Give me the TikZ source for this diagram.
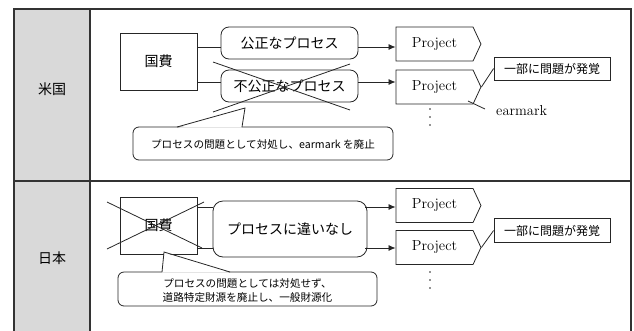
\documentclass[tikz,border=0pt]{standalone}
\usepackage{fontspec}
\newfontfamily\jp{Noto Sans CJK JP}
\usetikzlibrary{arrows.meta,shapes.symbols,calc}
\begin{document}
\begin{tikzpicture}[x=1pt,y=-1pt,
  frame/.style={draw=black!80,line width=1.1pt},
  box/.style={draw=black!85,line width=0.8pt,inner sep=0pt},
  rbox/.style={box,rounded corners=8pt},
  proj/.style={box,shape=signal,signal to=east,signal pointer angle=130,minimum width=85pt,minimum height=34pt,font=\fontsize{14.5}{16}\selectfont},
  conn/.style={draw=black!85,line width=0.8pt},
  arr/.style={conn,-{Latex[length=7pt,width=6pt]}},
  jpL/.style={font=\jp\fontsize{14}{16}\selectfont},
  jpM/.style={font=\jp\fontsize{12}{14}\selectfont},
  jpS/.style={font=\jp\fontsize{10.6}{14}\selectfont,align=center},
  dot/.style={fill=black!85,circle,inner sep=0pt,minimum size=1.6pt},
]
\useasboundingbox (0,0) rectangle (634,330);
\begin{scope}
\clip (0,0) rectangle (634,330);
\fill[black!15] (14,9) rectangle (90,335);
\draw[frame] (14,335) -- (14,9) -- (631,9) -- (631,335);
\draw[frame] (90,9) -- (90,335);
\draw[frame,line width=1.6pt] (14,181) -- (631,181);
\end{scope}

% row labels
\node[jpL] (us) at (52,89) {米国};
\node[jpL] (ja) at (52,258) {日本};

% ---------- US row ----------
\node[box,minimum width=77pt,minimum height=57pt,jpL] (k1) at (158.5,61.5) {国費};
\node[rbox,minimum width=137pt,minimum height=32pt,jpL] (fair) at (289.5,43) {公正なプロセス};
\node[rbox,minimum width=137pt,minimum height=32pt,jpL] (unfair) at (289.5,86) {不公正なプロセス};
\node[proj] (p1) at (434.5,44) {Project};
\node[proj] (p2) at (434.5,87) {Project};

\coordinate (ya) at (0,47);
\coordinate (yb) at (0,82);
\draw[conn] (k1.east |- ya) -- (fair.west |- ya);
\draw[conn] (k1.east |- yb) -- (unfair.west |- yb);
\draw[arr] (fair.east |- ya) -- (p1.west |- ya);
\draw[arr] (unfair.east |- yb) -- (p2.west |- yb);

% cross over unfair process
\draw[conn] (213,62) -- (350,110);
\draw[conn] (213,112) -- (350,64);

\node[box,minimum width=116pt,minimum height=23pt,jpM] (f1) at (552,68.5) {一部に問題が発覚};
\draw[conn] (f1.west) -- (p2.east);
\node[font=\fontsize{14.5}{16}\selectfont,anchor=west,inner sep=0pt] (em) at (496,111) {earmark};
\coordinate (emb) at (468,101);
\draw[conn] (emb) -- ($(em.west)+(-11,-2)$);

\node[dot] (d1) at (430,109) {};
\node[dot] (d2) at (430,117) {};
\node[dot] (d3) at (430,125) {};

% callout US
\draw[conn,rounded corners=6pt] (133,127) rectangle (393,160);
\fill[white] (178.5,127.7) -- (245,108.5) -- (241.6,127.7) -- cycle;
\coordinate (t1) at (245,108);
\draw[conn] (177,127) -- (t1) -- (242,127);
\node[jpS] (c1) at (263,144) {プロセスの問題として対処し、earmark を廃止};

% ---------- Japan row ----------
\node[box,minimum width=77pt,minimum height=57pt,jpL] (k2) at (158.5,225.5) {国費};
\draw[conn] (107,202) -- (202,248);
\draw[conn] (107,249) -- (204,202);
\node[rbox,rounded corners=10pt,minimum width=154pt,minimum height=56pt,jpL] (nd) at (290,229) {プロセスに違いなし};
\node[proj] (p3) at (434.5,205.5) {Project};
\node[proj] (p4) at (434.5,247.5) {Project};

\coordinate (yc) at (0,207);
\coordinate (yd) at (0,248);
\draw[conn] (k2.east |- yc) -- (nd.west |- yc);
\draw[conn] (k2.east |- yd) -- (nd.west |- yd);
\draw[arr] ($(nd.east |- yc)+(-2,0)$) -- (p3.west |- yc);
\draw[arr] ($(nd.east |- yd)+(-2,0)$) -- (p4.west |- yd);

\node[box,minimum width=116pt,minimum height=24pt,jpM] (f2) at (552,230.5) {一部に問題が発覚};
\draw[conn] (f2.west) -- (p4.east);

\node[dot] (d4) at (430,272) {};
\node[dot] (d5) at (430,280) {};
\node[dot] (d6) at (430,288) {};

% callout Japan
\draw[conn,rounded corners=6pt] (118,272) rectangle (377,306);
\fill[white] (162.2,272.7) -- (164,252.5) -- (229.5,272.7) -- cycle;
\coordinate (t2) at (164,252);
\draw[conn] (162,272) -- (t2) -- (230,272);
\node[jpS] (c2) at (247.5,290) {プロセスの問題としては対処せず、\\道路特定財源を廃止し、一般財源化};
\end{tikzpicture}
\end{document}
